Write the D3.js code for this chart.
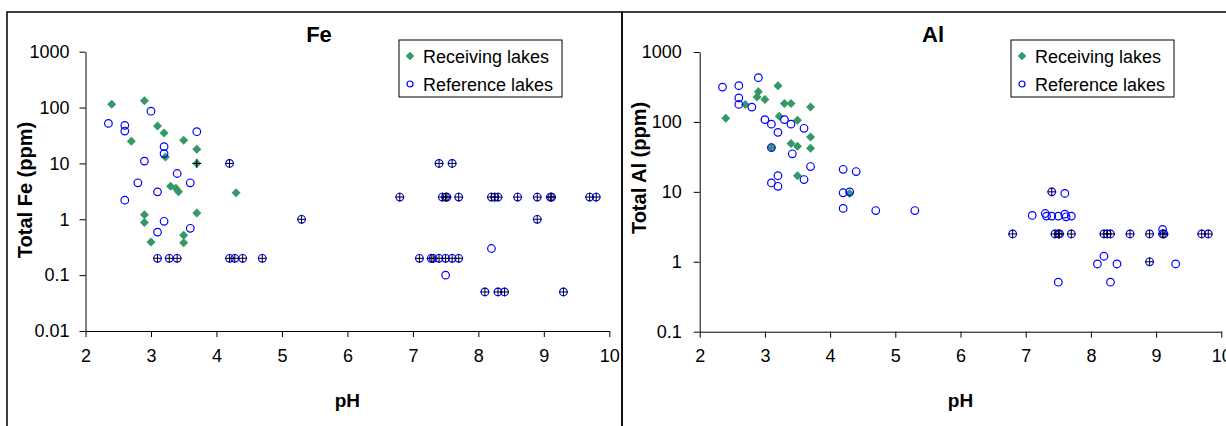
<!DOCTYPE html>
<html>
<head>
<meta charset="utf-8">
<script src="https://cdn.jsdelivr.net/npm/d3@7"></script>
<style>
    body { margin: 0; background: #fff; }
    svg text { font-family: "Liberation Sans", Arial, sans-serif; fill: #000; }
</style>
</head>
<body>
<svg id="chart" width="1226" height="426"></svg>
<script>
// ---- data: [pH, concentration in ppm] ----
var phTicks = [2, 3, 4, 5, 6, 7, 8, 9, 10];
var feYTicks = [0.01, 0.1, 1, 10, 100, 1000];
var alYTicks = [0.1, 1, 10, 100, 1000];
var seriesNames = ["Receiving lakes", "Reference lakes"];

var feReceiving = [
    [2.4, 115], [2.9, 132], [3.1, 47], [3.2, 35], [2.7, 25], [3.5, 26], [3.7, 18],
    [3.22, 13], [3.7, 10], [4.3, 3.0], [3.3, 3.9], [3.38, 3.6], [3.42, 3.1],
    [2.9, 1.2], [2.9, 0.88], [3.7, 1.3], [3.5, 0.52], [3.5, 0.38], [3.0, 0.39]
];
var feReference = [
    [3.0, 86], [2.35, 52], [2.6, 48], [2.6, 38], [3.7, 37], [3.2, 20], [3.2, 15],
    [2.9, 11], [4.2, 10], [3.4, 6.6], [2.8, 4.5], [3.6, 4.5], [3.1, 3.1], [2.6, 2.2],
    [3.2, 0.92], [3.1, 0.59], [3.6, 0.69],
    [3.1, 0.2], [3.28, 0.2], [3.4, 0.2], [4.2, 0.2], [4.28, 0.2], [4.4, 0.2], [4.7, 0.2],
    [5.3, 1], [7.4, 10], [7.6, 10],
    [6.8, 2.5], [7.45, 2.5], [7.5, 2.5], [7.52, 2.5], [7.7, 2.5], [8.2, 2.5], [8.25, 2.5],
    [8.3, 2.5], [8.6, 2.5], [8.9, 2.5], [9.1, 2.5], [9.12, 2.5], [9.7, 2.5], [9.8, 2.5],
    [8.9, 1], [8.2, 0.3], [7.5, 0.1],
    [7.1, 0.2], [7.28, 0.2], [7.31, 0.2], [7.4, 0.2], [7.5, 0.2], [7.6, 0.2], [7.7, 0.2],
    [8.1, 0.05], [8.3, 0.05], [8.4, 0.05], [9.3, 0.05]
];
// points drawn with an extra black "+" (values at detection limit)
var feLimit = [
    [3.7, 10], [4.2, 10],
    [3.1, 0.2], [3.28, 0.2], [3.4, 0.2], [4.2, 0.2], [4.28, 0.2], [4.4, 0.2], [4.7, 0.2],
    [5.3, 1], [7.4, 10], [7.6, 10],
    [6.8, 2.5], [7.45, 2.5], [7.5, 2.5], [7.52, 2.5], [7.7, 2.5], [8.2, 2.5], [8.25, 2.5],
    [8.3, 2.5], [8.6, 2.5], [8.9, 2.5], [9.1, 2.5], [9.12, 2.5], [9.7, 2.5], [9.8, 2.5],
    [8.9, 1],
    [7.1, 0.2], [7.28, 0.2], [7.31, 0.2], [7.4, 0.2], [7.5, 0.2], [7.6, 0.2], [7.7, 0.2],
    [8.1, 0.05], [8.3, 0.05], [8.4, 0.05], [9.3, 0.05]
];

var alReceiving = [
    [2.4, 113], [3.2, 330], [2.9, 270], [2.88, 228], [3.0, 210], [2.7, 178], [3.3, 183],
    [3.4, 183], [3.7, 163], [3.22, 121], [3.5, 106], [3.7, 61], [3.4, 49], [3.5, 45],
    [3.7, 42], [3.1, 43], [3.5, 17], [4.3, 9.5]
];
var alReference = [
    [2.35, 315], [2.6, 330], [2.9, 430], [2.6, 220], [2.6, 178], [2.8, 163], [3.0, 108],
    [3.1, 93], [3.3, 108], [3.4, 93], [3.2, 71], [3.6, 81], [3.1, 43], [3.42, 35],
    [3.7, 23], [3.2, 17], [3.6, 15], [3.1, 13.4], [3.2, 12],
    [4.2, 21], [4.4, 19.5], [4.2, 9.7], [4.3, 10], [4.2, 5.8], [4.7, 5.4], [5.3, 5.4],
    [7.4, 10], [7.6, 9.5],
    [7.1, 4.6], [7.3, 4.9], [7.32, 4.5], [7.4, 4.5], [7.5, 4.5], [7.6, 4.8], [7.62, 4.4], [7.7, 4.5],
    [6.8, 2.5], [7.45, 2.5], [7.5, 2.5], [7.52, 2.5], [7.7, 2.5], [8.2, 2.5], [8.25, 2.5],
    [8.3, 2.5], [8.6, 2.5], [8.9, 2.5], [9.1, 2.5], [9.12, 2.5], [9.7, 2.5], [9.8, 2.5],
    [9.1, 2.9], [8.2, 1.2], [8.1, 0.93], [8.4, 0.93], [8.9, 1], [9.3, 0.93],
    [7.5, 0.51], [8.3, 0.51]
];
var alLimit = [
    [7.4, 10],
    [6.8, 2.5], [7.45, 2.5], [7.5, 2.5], [7.52, 2.5], [7.7, 2.5], [8.2, 2.5], [8.25, 2.5],
    [8.3, 2.5], [8.6, 2.5], [8.9, 2.5], [9.1, 2.5], [9.12, 2.5], [9.7, 2.5], [9.8, 2.5],
    [8.9, 1]
];

var green = "#339966", blue = "#0000ff";

var svg = d3.select("#chart");

// panel frames
svg.append("rect").attr("x", 7).attr("y", 12).attr("width", 615).attr("height", 440)
    .attr("fill", "none").attr("stroke", "#000").attr("stroke-width", 1.5);
svg.append("rect").attr("x", 622).attr("y", 12).attr("width", 640).attr("height", 440)
    .attr("fill", "none").attr("stroke", "#000").attr("stroke-width", 1.5);

var panels = [
    { title: "Fe", yTitle: "Total Fe (ppm)", rec: feReceiving, ref: feReference, lim: feLimit,
      yTicks: feYTicks, left: 85.5, right: 609.3, bottom: 331, top: 51.7,
      titleX: 319, yTitleX: 25, yTitleY: 190, legendX: 399, pad: 10 },
    { title: "Al", yTitle: "Total Al (ppm)", rec: alReceiving, ref: alReference, lim: alLimit,
      yTicks: alYTicks, left: 699.7, right: 1221.3, bottom: 331.7, top: 52,
      titleX: 933, yTitleX: 639, yTitleY: 168, legendX: 1011, pad: 12 }
];

function diamond(x, y, r) {
    return "M" + x + "," + (y - r) + "L" + (x + r) + "," + y + "L" + x + "," + (y + r) + "L" + (x - r) + "," + y + "Z";
}

panels.forEach(function (p) {
    var x = d3.scaleLinear().domain([2, 10]).range([p.left, p.right]);
    var y = d3.scaleLog()
        .domain([p.yTicks[0], p.yTicks[p.yTicks.length - 1]])
        .range([p.bottom, p.top]);

    // x axis
    var gx = svg.append("g")
        .attr("transform", "translate(0," + p.bottom + ")")
        .call(d3.axisBottom(x).tickValues(phTicks).tickSize(6).tickSizeOuter(0).tickPadding(12).tickFormat(d3.format("d")));
    gx.selectAll("text").style("font-size", "18px");

    // y axis
    var gy = svg.append("g")
        .attr("transform", "translate(" + p.left + ",0)")
        .call(d3.axisLeft(y).tickValues(p.yTicks).tickSize(6).tickSizeOuter(0).tickPadding(p.pad)
            .tickFormat(function (d) { return String(d); }));
    gy.selectAll("text").style("font-size", "18px");
    svg.selectAll(".domain, .tick line").attr("stroke", "#000");

    // titles
    svg.append("text").attr("x", p.titleX).attr("y", 42).attr("text-anchor", "middle")
        .style("font-size", "22px").style("font-weight", "bold").text(p.title);
    svg.append("text").attr("x", (p.left + p.right) / 2).attr("y", 407).attr("text-anchor", "middle")
        .style("font-size", "19px").style("font-weight", "bold").text("pH");
    svg.append("text")
        .attr("transform", "translate(" + (p.yTitleX + 7) + "," + p.yTitleY + ") rotate(-90)")
        .attr("text-anchor", "middle")
        .style("font-size", "20px").style("font-weight", "bold").text(p.yTitle);

    // receiving lakes: green diamonds
    svg.append("g").selectAll("path")
        .data(p.rec).enter().append("path")
        .attr("d", function (d) { return diamond(x(d[0]), y(d[1]), 4.5); })
        .attr("fill", green);

    // reference lakes: open blue circles
    svg.append("g").selectAll("circle")
        .data(p.ref).enter().append("circle")
        .attr("cx", function (d) { return x(d[0]); })
        .attr("cy", function (d) { return y(d[1]); })
        .attr("r", 3.8)
        .attr("fill", "none").attr("stroke", blue).attr("stroke-width", 1.2);

    // detection-limit crosses
    svg.append("g").selectAll("path")
        .data(p.lim).enter().append("path")
        .attr("d", function (d) {
            var cx = x(d[0]), cy = y(d[1]);
            return "M" + (cx - 4.5) + "," + cy + "H" + (cx + 4.5) + "M" + cx + "," + (cy - 4.5) + "V" + (cy + 4.5);
        })
        .attr("stroke", "#000").attr("stroke-width", 1);

    // legend
    var lg = svg.append("g").attr("transform", "translate(" + p.legendX + ",40)");
    lg.append("rect").attr("width", 163).attr("height", 57)
        .attr("fill", "#fff").attr("stroke", "#000").attr("stroke-width", 1);
    lg.append("path").attr("d", diamond(11, 16, 4.3)).attr("fill", green);
    lg.append("circle").attr("cx", 11).attr("cy", 44).attr("r", 3)
        .attr("fill", "none").attr("stroke", blue).attr("stroke-width", 1.2);
    lg.selectAll("text").data(seriesNames).enter().append("text")
        .attr("x", 24)
        .attr("y", function (d, i) { return 23 + i * 27.5; })
        .style("font-size", "18px")
        .text(function (d) { return d; });
});
</script>
</body>
</html>
